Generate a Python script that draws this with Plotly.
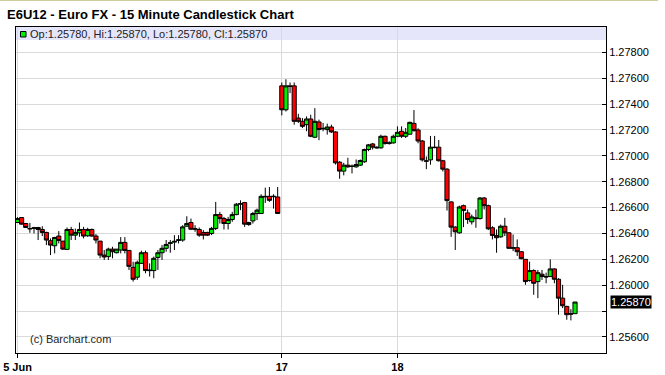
import plotly.graph_objects as go

title_text = "E6U12 - Euro FX - 15 Minute Candlestick Chart"
tick_labels = ["5 Jun", "17", "18"]
tick_bars = [0, 64, 92]

opens = [1.26485, 1.26523, 1.26477, 1.26438, 1.26444, 1.26446, 1.26431, 1.26408, 1.26344, 1.26305,
         1.26380, 1.26341, 1.26277, 1.26431, 1.26387, 1.26405, 1.26431, 1.26382, 1.26431, 1.26380,
         1.26341, 1.26233, 1.26221, 1.26279, 1.26251, 1.26272, 1.26331, 1.26269, 1.26138, 1.26062,
         1.26169, 1.26251, 1.26118, 1.26113, 1.26215, 1.26251, 1.26285, 1.26323, 1.26333, 1.26346,
         1.26349, 1.26456, 1.26485, 1.26433, 1.26431, 1.26408, 1.26408, 1.26400, 1.26439, 1.26546,
         1.26515, 1.26477, 1.26508, 1.26546, 1.26626, 1.26639, 1.26469, 1.26497, 1.26554, 1.26554,
         1.26687, 1.26687, 1.26684, 1.26682, 1.27541, 1.27356, 1.27541, 1.27541, 1.27292, 1.27267,
         1.27241, 1.27285, 1.27144, 1.27262, 1.27213, 1.27203, 1.27223, 1.27185, 1.26951, 1.26882,
         1.26928, 1.26921, 1.26915, 1.26928, 1.26954, 1.27049, 1.27092, 1.27067, 1.27062, 1.27151,
         1.27095, 1.27100, 1.27151, 1.27190, 1.27151, 1.27167, 1.27251, 1.27200, 1.27115, 1.26962,
         1.26969, 1.27067, 1.27067, 1.26962, 1.26897, 1.26644, 1.26449, 1.26405, 1.26615, 1.26559,
         1.26490, 1.26521, 1.26515, 1.26674, 1.26615, 1.26444, 1.26385, 1.26374, 1.26456, 1.26405,
         1.26290, 1.26290, 1.26259, 1.26200, 1.26036, 1.26113, 1.26028, 1.26085, 1.26067, 1.26067,
         1.26126, 1.26046, 1.25900, 1.25836, 1.25780, 1.25780]
highs = [1.26526, 1.26523, 1.26482, 1.26482, 1.26451, 1.26451, 1.26456, 1.26413, 1.26362, 1.26374,
         1.26418, 1.26341, 1.26446, 1.26451, 1.26438, 1.26485, 1.26451, 1.26444, 1.26438, 1.26395,
         1.26341, 1.26272, 1.26290, 1.26297, 1.26279, 1.26372, 1.26372, 1.26269, 1.26182, 1.26190,
         1.26267, 1.26267, 1.26169, 1.26221, 1.26272, 1.26310, 1.26349, 1.26349, 1.26387, 1.26387,
         1.26464, 1.26533, 1.26515, 1.26464, 1.26446, 1.26426, 1.26413, 1.26451, 1.26644, 1.26567,
         1.26528, 1.26528, 1.26567, 1.26636, 1.26656, 1.26644, 1.26490, 1.26567, 1.26592, 1.26703,
         1.26754, 1.26759, 1.26703, 1.26759, 1.27567, 1.27592, 1.27567, 1.27567, 1.27325, 1.27292,
         1.27305, 1.27318, 1.27369, 1.27280, 1.27254, 1.27249, 1.27241, 1.27190, 1.26959, 1.26946,
         1.26985, 1.26933, 1.26972, 1.26972, 1.27056, 1.27092, 1.27100, 1.27074, 1.27164, 1.27156,
         1.27113, 1.27164, 1.27228, 1.27228, 1.27215, 1.27264, 1.27354, 1.27213, 1.27123, 1.26995,
         1.27154, 1.27154, 1.27123, 1.26969, 1.26905, 1.26649, 1.26456, 1.26615, 1.26623, 1.26585,
         1.26546, 1.26585, 1.26682, 1.26682, 1.26623, 1.26456, 1.26431, 1.26469, 1.26521, 1.26410,
         1.26392, 1.26354, 1.26264, 1.26200, 1.26182, 1.26123, 1.26118, 1.26118, 1.26097, 1.26200,
         1.26131, 1.26054, 1.26003, 1.25841, 1.25815, 1.25870]
lows = [1.26482, 1.26469, 1.26444, 1.26405, 1.26400, 1.26349, 1.26380, 1.26310, 1.26233, 1.26246,
        1.26323, 1.26272, 1.26272, 1.26349, 1.26349, 1.26374, 1.26362, 1.26374, 1.26374, 1.26323,
        1.26208, 1.26195, 1.26195, 1.26208, 1.26246, 1.26246, 1.26246, 1.26118, 1.26028, 1.26041,
        1.26164, 1.26092, 1.26067, 1.26054, 1.26118, 1.26195, 1.26259, 1.26251, 1.26272, 1.26323,
        1.26336, 1.26451, 1.26426, 1.26413, 1.26374, 1.26354, 1.26380, 1.26387, 1.26426, 1.26477,
        1.26431, 1.26431, 1.26490, 1.26541, 1.26580, 1.26451, 1.26459, 1.26477, 1.26503, 1.26554,
        1.26636, 1.26644, 1.26592, 1.26554, 1.27313, 1.27343, 1.27485, 1.27241, 1.27254, 1.27215,
        1.27190, 1.27144, 1.27138, 1.27121, 1.27190, 1.27164, 1.27177, 1.26933, 1.26823, 1.26849,
        1.26908, 1.26864, 1.26908, 1.26921, 1.26946, 1.27036, 1.27049, 1.27056, 1.27056, 1.27087,
        1.27087, 1.27095, 1.27144, 1.27138, 1.27138, 1.27167, 1.27187, 1.27097, 1.26956, 1.26897,
        1.26931, 1.27059, 1.26956, 1.26879, 1.26577, 1.26374, 1.26272, 1.26398, 1.26449, 1.26474,
        1.26469, 1.26444, 1.26508, 1.26585, 1.26426, 1.26354, 1.26251, 1.26367, 1.26380, 1.26282,
        1.26264, 1.26226, 1.26200, 1.26003, 1.26028, 1.25926, 1.25900, 1.26041, 1.26015, 1.26067,
        1.26015, 1.25772, 1.25823, 1.25733, 1.25728, 1.25780]
closes = [1.26515, 1.26472, 1.26446, 1.26436, 1.26441, 1.26431, 1.26408, 1.26349, 1.26310, 1.26369,
          1.26346, 1.26279, 1.26431, 1.26387, 1.26408, 1.26431, 1.26380, 1.26431, 1.26380, 1.26349,
          1.26233, 1.26218, 1.26279, 1.26259, 1.26279, 1.26331, 1.26269, 1.26146, 1.26046, 1.26177,
          1.26251, 1.26113, 1.26113, 1.26208, 1.26251, 1.26285, 1.26315, 1.26328, 1.26339, 1.26351,
          1.26451, 1.26477, 1.26433, 1.26436, 1.26387, 1.26387, 1.26387, 1.26439, 1.26546, 1.26515,
          1.26477, 1.26508, 1.26546, 1.26626, 1.26631, 1.26472, 1.26485, 1.26554, 1.26580, 1.26687,
          1.26684, 1.26656, 1.26687, 1.26554, 1.27356, 1.27541, 1.27536, 1.27267, 1.27267, 1.27228,
          1.27285, 1.27151, 1.27267, 1.27203, 1.27210, 1.27223, 1.27185, 1.26946, 1.26882, 1.26928,
          1.26915, 1.26918, 1.26933, 1.26964, 1.27049, 1.27085, 1.27067, 1.27062, 1.27151, 1.27095,
          1.27100, 1.27151, 1.27182, 1.27151, 1.27182, 1.27259, 1.27195, 1.27115, 1.26969, 1.26959,
          1.27067, 1.27064, 1.26962, 1.26897, 1.26654, 1.26449, 1.26413, 1.26605, 1.26577, 1.26508,
          1.26528, 1.26515, 1.26674, 1.26615, 1.26436, 1.26385, 1.26367, 1.26456, 1.26405, 1.26285,
          1.26287, 1.26259, 1.26205, 1.26028, 1.26113, 1.26015, 1.26097, 1.26067, 1.26064, 1.26126,
          1.26046, 1.25900, 1.25841, 1.25772, 1.25777, 1.25870]

y_ticks = [1.256, 1.258, 1.260, 1.262, 1.264, 1.266, 1.268, 1.270, 1.272, 1.274, 1.276, 1.278]

bars = list(range(len(opens)))
FONT = "Arial, Liberation Sans, sans-serif"
GREEN = "#00EE00"
RED = "#FF0000"

fig = go.Figure()
fig.add_trace(go.Candlestick(
    x=bars, open=opens, high=highs, low=lows, close=closes,
    increasing=dict(fillcolor=GREEN, line=dict(color="black", width=1)),
    decreasing=dict(fillcolor=RED, line=dict(color="black", width=1)),
    whiskerwidth=0, showlegend=False, hoverinfo="skip",
))

W, H = 665, 375
L, R, T, B = 16, 59, 27, 22
pw = W - L - R
ph = H - T - B

def px_x(px):
    return (px - L) / pw

def px_y(py):
    return (H - B - py) / ph

last = closes[-1]
# hide the tick label that sits under the last-price box
y_text = ["" if abs(v - last) < 0.0012 else "%.5f" % v for v in y_ticks]

fig.update_layout(
    width=W, height=H,
    margin=dict(l=L, r=R, t=T, b=B, pad=0, autoexpand=False),
    paper_bgcolor="white", plot_bgcolor="white",
    boxgap=0.0, boxgroupgap=0.0,
    showlegend=False,
    font=dict(family=FONT, size=11, color="black"),
    xaxis=dict(
        range=[-0.36, 142.5], rangeslider=dict(visible=False), automargin=False,
        tickvals=tick_bars, ticktext=["<b>%s</b>" % t for t in tick_labels],
        ticks="outside", ticklen=4, tickcolor="black",
        tickfont=dict(family=FONT, size=11, color="black"),
        showgrid=True, gridcolor="#DADADA", gridwidth=1,
        showline=True, linecolor="black", linewidth=1, mirror=True,
        zeroline=False, fixedrange=True,
    ),
    yaxis=dict(
        range=[1.25476, 1.27996], side="right", automargin=False,
        tickvals=y_ticks, ticktext=y_text,
        ticks="inside", ticklen=4, tickcolor="black",
        tickfont=dict(family=FONT, size=11, color="black"),
        showgrid=True, gridcolor="#DADADA", gridwidth=1,
        showline=True, linecolor="black", linewidth=1, mirror=True,
        zeroline=False, fixedrange=True,
    ),
)

# legend bar
fig.add_shape(type="rect", xref="paper", yref="paper",
              x0=0, x1=1, y0=px_y(40), y1=1,
              fillcolor="#E6E6FA", line=dict(width=0), layer="below")
fig.add_shape(type="rect", xref="paper", yref="paper",
              x0=px_x(20.5), x1=px_x(26), y0=px_y(37), y1=px_y(31.5),
              fillcolor=GREEN, line=dict(color="black", width=1), layer="above")
# top page border
fig.add_shape(type="line", xref="paper", yref="paper",
              x0=px_x(0), x1=px_x(658), y0=px_y(0.5), y1=px_y(0.5),
              line=dict(color="#CFCB9A", width=1))

legend_text = "Op:%.5f, Hi:%.5f, Lo:%.5f, Cl:%.5f" % (opens[-1], highs[-1], lows[-1], closes[-1])

fig.add_annotation(text="<b>%s</b>" % title_text, xref="paper", yref="paper",
                   x=px_x(5), y=px_y(15), xanchor="left", yanchor="middle",
                   showarrow=False, font=dict(family=FONT, size=13, color="black"))
fig.add_annotation(text=legend_text, xref="paper", yref="paper",
                   x=px_x(27.5), y=px_y(34), xanchor="left", yanchor="middle",
                   showarrow=False, font=dict(family=FONT, size=11, color="#222222"))
fig.add_annotation(text="(c) Barchart.com", xref="paper", yref="paper",
                   x=px_x(27.5), y=px_y(339), xanchor="left", yanchor="middle",
                   showarrow=False, font=dict(family=FONT, size=11, color="#222222"))
fig.add_annotation(text="%.5f" % last, xref="paper", yref="y",
                   x=px_x(610), y=last, xanchor="left", yanchor="middle",
                   showarrow=False, bgcolor="black", borderpad=0,
                   font=dict(family=FONT, size=11, color="white"))

fig.write_html("out.html")
